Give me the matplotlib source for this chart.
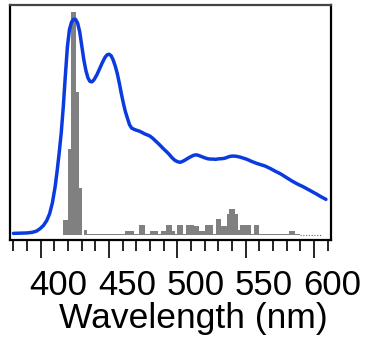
import numpy as np
import matplotlib
matplotlib.use("Agg")
import matplotlib.pyplot as plt
from matplotlib.ticker import MultipleLocator
import matplotlib.transforms as mtransforms

# Emission spectrum (normalised intensity vs wavelength)
spec_nm = [380, 385, 390, 394, 397, 399.5, 402, 404.4, 406.5, 408.5,
           410.5, 412, 413.5, 415, 416.5, 418, 419.5, 421, 422.5, 424,
           425.5, 427, 428.5, 430, 431.5, 433, 434.5, 436, 437.5, 439,
           441, 443, 445, 447, 448.5, 450, 451.5, 453, 454.5, 456,
           457.5, 459, 460.5, 462, 463.5, 465, 466.5, 468, 470, 472,
           474, 476, 478, 480, 482, 484, 486, 488, 490, 492,
           494, 496, 498, 500, 502, 504, 506, 508, 510, 512,
           514, 516, 518, 520, 522, 524, 526, 528, 530, 532,
           534, 536, 538, 540, 542, 544, 546, 548, 550, 552,
           554, 556, 558, 560, 562, 564, 566, 568, 570, 572,
           574, 576, 578, 580, 582, 584, 586, 588, 590, 592,
           594, 596, 598, 600, 602, 604, 606, 608.7]
spec_int = [0.008, 0.009, 0.010, 0.013, 0.019, 0.030, 0.045, 0.068, 0.100, 0.150,
            0.225, 0.300, 0.385, 0.478, 0.600, 0.745, 0.880, 0.960, 0.995, 1.008,
            1.008, 0.990, 0.950, 0.885, 0.820, 0.770, 0.735, 0.718, 0.716, 0.726,
            0.748, 0.776, 0.805, 0.830, 0.842, 0.845, 0.838, 0.818, 0.790, 0.755,
            0.710, 0.660, 0.615, 0.575, 0.545, 0.515, 0.500, 0.495, 0.490, 0.486,
            0.480, 0.473, 0.468, 0.462, 0.452, 0.440, 0.428, 0.415, 0.402, 0.390,
            0.377, 0.362, 0.350, 0.343, 0.340, 0.345, 0.352, 0.360, 0.367, 0.373,
            0.375, 0.371, 0.366, 0.361, 0.357, 0.355, 0.355, 0.354, 0.356, 0.357,
            0.358, 0.362, 0.367, 0.369, 0.369, 0.367, 0.364, 0.360, 0.356, 0.351,
            0.345, 0.340, 0.335, 0.331, 0.327, 0.323, 0.317, 0.311, 0.304, 0.297,
            0.291, 0.284, 0.276, 0.268, 0.260, 0.252, 0.245, 0.238, 0.232, 0.226,
            0.219, 0.212, 0.205, 0.198, 0.191, 0.183, 0.176, 0.167]

# Histogram of transition wavelengths (2 nm bins, left edges)
bin_left = np.arange(414, 590, 2)
bin_height = [0.0, 0.07, 0.07, 0.40, 1.04, 1.04, 0.67, 0.22, 0.0, 0.023,
              0.006, 0.006, 0.006, 0.006, 0.006, 0.006, 0.006, 0.006, 0.006, 0.006,
              0.006, 0.006, 0.006, 0.006,
              0.02, 0.02, 0.02, 0.006, 0.006, 0.047, 0.047, 0.006, 0.006,
              0.02, 0.02, 0.02, 0.006, 0.02, 0.02, 0.047, 0.047, 0.02, 0.006,
              0.047, 0.047, 0.006, 0.047, 0.047, 0.047, 0.042, 0.042, 0.02, 0.02,
              0.047, 0.047, 0.047, 0.006, 0.073, 0.073, 0.042, 0.042,
              0.098, 0.12, 0.12, 0.098, 0.023, 0.047, 0.047, 0.047, 0.047, 0.006,
              0.047, 0.047,
              0.006, 0.006, 0.006, 0.006, 0.006, 0.006, 0.006, 0.006, 0.006, 0.006, 0.006,
              0.02, 0.02, 0.006, 0.006]
tail_nm = [590, 606]
tail_val = [0.0, 0.0]

major_ticks = [400, 450, 500, 550, 600]

fig = plt.figure(figsize=(3.65, 3.39), dpi=100)
ax = fig.add_axes([10 / 365, 1 - 240 / 339, 321 / 365, 235 / 339])

ax.bar(bin_left, bin_height, width=2.0, align="edge", color="#808080",
       linewidth=0, zorder=1)
ax.plot(tail_nm, tail_val, color="#e03030", linestyle=(0, (1, 1.5)),
        linewidth=0.8, zorder=1)
ax.plot(spec_nm, spec_int, color="#0a3be0", linewidth=2.5, zorder=2,
        solid_capstyle="round", solid_joinstyle="round")

ax.set_xlim(377.5, 612.4)
ax.set_ylim(-0.023, 1.075)

ax.set_yticks([])
ax.xaxis.set_minor_locator(MultipleLocator(10))
ax.set_xticks(major_ticks)
ax.tick_params(axis="x", which="major", direction="out", length=13,
               width=1.2, labelsize=25, pad=8)
ax.tick_params(axis="x", which="minor", direction="out", length=8, width=1.2)

for lab in ax.get_xticklabels():
    lab.set_fontfamily("Liberation Sans")
    lab.set_transform(lab.get_transform() +
                      mtransforms.ScaledTranslation(18 / 100, 0, fig.dpi_scale_trans))

ax.set_xlabel("Wavelength (nm)", fontsize=25.5, family="Liberation Sans")
ax.xaxis.set_label_coords(0.57, -0.265)

for side, sp in ax.spines.items():
    sp.set_linewidth(1.6)
    sp.set_color("black")
ax.spines["top"].set_color("#444444")

fig.savefig("out.png", dpi=100)
